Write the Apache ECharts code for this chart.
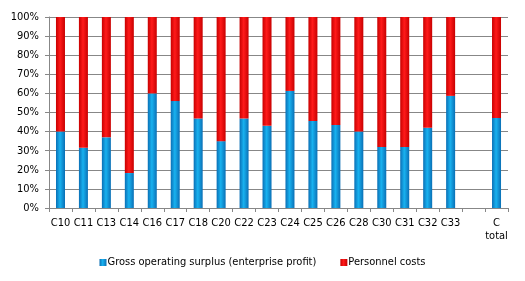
<!DOCTYPE html>
<html>
<head>
<meta charset="utf-8">
<script src="https://cdn.jsdelivr.net/npm/echarts@6/dist/echarts.min.js"></script>
<style>
  html, body { margin: 0; padding: 0; background: #fff; }
  #chart { width: 525px; height: 281px; }
</style>
</head>
<body>
<div id="chart"></div>
<script>
// categories (one empty slot before the total)
const categories = ['C10', 'C11', 'C13', 'C14', 'C16', 'C17', 'C18', 'C20', 'C22', 'C23',
  'C24', 'C25', 'C26', 'C28', 'C30', 'C31', 'C32', 'C33', '', 'C\ntotal'];

// shares in %
const surplus = [40, 31.5, 37, 18.3, 60, 56, 46.8, 35, 46.8, 43,
  61.3, 45.5, 43.5, 40, 32, 32, 42, 58.7, '-', 47.1];
const personnel = [60, 68.5, 63, 81.7, 40, 44, 53.2, 65, 53.2, 57,
  38.7, 54.5, 56.5, 60, 68, 68, 58, 41.3, '-', 52.9];

const yTicks = { min: 0, max: 100, interval: 10 };

const gridColor = '#878787';
const font = '"DejaVu Sans Condensed", "DejaVu Sans", sans-serif';

function barGrad(edge, mid) {
  return new echarts.graphic.LinearGradient(0, 0, 1, 0, [
    { offset: 0, color: edge },
    { offset: 0.45, color: mid },
    { offset: 1, color: edge }
  ]);
}

const chart = echarts.init(document.getElementById('chart'));
chart.setOption({
  animation: false,
  backgroundColor: '#fff',
  grid: { left: 49, right: 17, top: 17, bottom: 73 },
  legend: {
    bottom: 8,
    left: 'center',
    icon: 'rect',
    itemWidth: 7,
    itemHeight: 7,
    itemGap: 24,
    textStyle: { fontFamily: font, fontSize: 11, color: '#000', padding: [0, 0, 0, -4] },
    data: ['Gross operating surplus (enterprise profit)', 'Personnel costs']
  },
  xAxis: {
    type: 'category',
    data: categories,
    axisLine: { lineStyle: { color: gridColor } },
    axisTick: { show: true, length: 4, lineStyle: { color: gridColor } },
    axisLabel: {
      color: '#000', fontFamily: font, fontSize: 11, margin: 9,
      interval: 0, lineHeight: 13
    }
  },
  yAxis: {
    type: 'value',
    min: yTicks.min,
    max: yTicks.max,
    interval: yTicks.interval,
    axisLine: { show: true, lineStyle: { color: gridColor } },
    axisTick: { show: true, length: 4, lineStyle: { color: gridColor } },
    splitLine: { lineStyle: { color: gridColor, width: 1 } },
    axisLabel: {
      formatter: '{value}%', color: '#000', fontFamily: font, fontSize: 11, margin: 10
    }
  },
  series: [
    {
      name: 'Gross operating surplus (enterprise profit)',
      type: 'bar',
      stack: 'total',
      barWidth: 9,
      data: surplus,
      itemStyle: { color: barGrad('#0a6fb5', '#18b2f0') }
    },
    {
      name: 'Personnel costs',
      type: 'bar',
      stack: 'total',
      barWidth: 9,
      data: personnel,
      itemStyle: { color: barGrad('#c80000', '#ff1a1a') }
    }
  ]
});
</script>
</body>
</html>
